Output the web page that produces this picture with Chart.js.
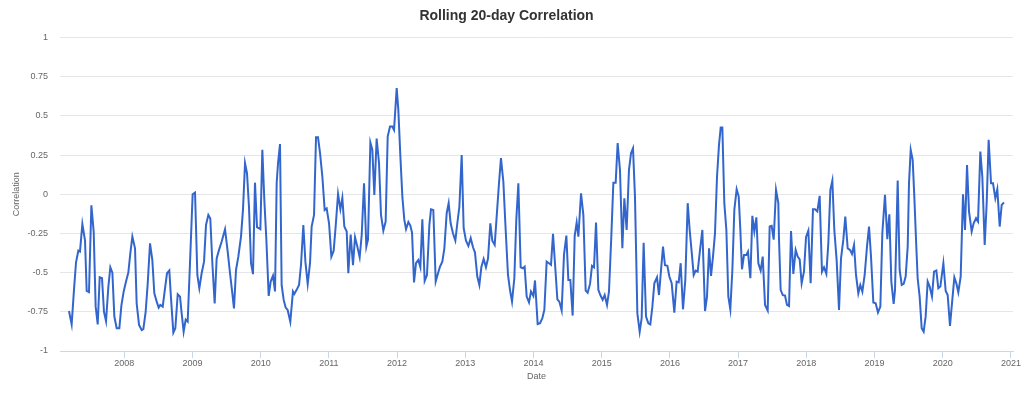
<!DOCTYPE html>
<html>
<head>
<meta charset="utf-8">
<script src="https://cdn.jsdelivr.net/npm/chart.js@4"></script>
<style>
html,body{margin:0;padding:0;background:#fff;}
#wrap{width:1024px;height:393px;position:relative;}
</style>
</head>
<body>
<div id="wrap"><canvas id="c"></canvas></div>
<script>
const chartTitle = "Rolling 20-day Correlation";
const xTitle = "Date";
const yTitle = "Correlation";
const yearTicks = [2008,2009,2010,2011,2012,2013,2014,2015,2016,2017,2018,2019,2020,2021];
const yTicks = [-1,-0.75,-0.5,-0.25,0,0.25,0.5,0.75,1];

const dates = [
2007.189,2007.228,2007.262,2007.292,2007.326,2007.350,2007.385,2007.424,2007.448,2007.482,
2007.517,2007.551,2007.580,2007.610,2007.639,2007.673,2007.702,2007.732,2007.766,2007.795,
2007.825,2007.854,2007.888,2007.927,2007.957,2007.991,2008.025,2008.059,2008.088,2008.118,
2008.157,2008.181,2008.216,2008.255,2008.279,2008.313,2008.343,2008.377,2008.411,2008.440,
2008.475,2008.504,2008.528,2008.563,2008.597,2008.626,2008.660,2008.685,2008.719,2008.748,
2008.783,2008.817,
2008.841,2008.870,2008.900,2008.929,2008.963,2009.002,2009.037,2009.071,2009.100,2009.134,
2009.169,2009.198,2009.232,2009.261,2009.291,2009.325,2009.354,2009.389,2009.428,2009.477,
2009.516,2009.550,2009.584,2009.608,2009.638,2009.672,2009.711,2009.740,2009.770,2009.799,
2009.828,2009.858,2009.887,2009.916,2009.946,2009.975,2009.995,2010.024,2010.053,2010.083,
2010.117,2010.146,2010.180,2010.210,2010.234,2010.254,2010.283,2010.307,2010.337,2010.366,
2010.395,2010.434,2010.473,2010.493,
2010.527,2010.562,2010.591,2010.625,2010.655,2010.689,2010.723,2010.747,2010.782,2010.811,
2010.840,2010.870,2010.904,2010.938,2010.967,2011.002,2011.036,2011.070,2011.099,2011.134,
2011.168,2011.197,2011.226,2011.261,2011.285,2011.319,2011.353,2011.383,2011.417,2011.451,
2011.481,2011.515,2011.549,2011.573,2011.608,2011.637,2011.666,2011.700,2011.735,2011.764,
2011.798,2011.832,2011.862,2011.896,2011.930,2011.955,2011.994,2012.018,2012.047,2012.077,
2012.106,2012.131,2012.165,2012.194,2012.219,2012.248,2012.277,
2012.311,2012.341,2012.370,2012.404,2012.438,2012.473,2012.497,2012.531,2012.566,2012.600,
2012.629,2012.663,2012.693,2012.727,2012.756,2012.785,2012.820,2012.854,2012.883,2012.913,
2012.947,2012.976,2013.010,2013.045,2013.079,2013.113,2013.142,2013.176,2013.206,2013.235,
2013.269,2013.303,2013.333,2013.367,2013.396,2013.431,2013.460,2013.494,2013.523,2013.558,
2013.592,2013.626,2013.655,2013.685,2013.719,2013.748,2013.778,2013.812,2013.846,2013.870,
2013.900,2013.934,2013.963,2013.998,2014.022,2014.061,
2014.096,2014.130,2014.159,2014.193,2014.227,2014.257,2014.286,2014.315,2014.350,2014.379,
2014.413,2014.447,2014.482,2014.511,2014.540,2014.574,2014.604,2014.633,2014.658,2014.697,
2014.731,2014.765,2014.794,2014.829,2014.858,2014.887,2014.917,2014.951,2014.980,2015.014,
2015.044,2015.078,2015.107,2015.141,2015.171,2015.205,2015.234,2015.268,2015.303,2015.332,
2015.366,2015.400,2015.430,2015.459,2015.488,2015.523,2015.557,2015.586,2015.615,2015.650,
2015.684,2015.713,2015.743,2015.772,
2015.811,2015.840,2015.870,2015.899,2015.928,2015.963,2015.992,2016.026,2016.065,2016.099,
2016.129,2016.158,2016.192,2016.226,2016.261,2016.290,2016.319,2016.349,2016.378,2016.407,
2016.442,2016.476,2016.515,2016.544,2016.574,2016.603,2016.632,2016.661,2016.691,2016.720,
2016.745,2016.769,2016.798,2016.828,2016.857,2016.886,2016.916,2016.945,2016.979,2017.009,
2017.033,2017.057,2017.087,2017.121,2017.145,2017.180,2017.209,2017.238,2017.268,2017.297,
2017.331,2017.361,2017.395,2017.434,2017.463,2017.492,2017.522,2017.556,2017.590,
2017.600,2017.624,2017.654,2017.688,2017.717,2017.747,2017.776,2017.810,2017.844,2017.874,
2017.903,2017.932,2017.966,2017.996,2018.030,2018.064,2018.098,2018.128,2018.162,2018.196,
2018.230,2018.260,2018.294,2018.323,2018.353,2018.382,2018.411,2018.445,2018.480,2018.509,
2018.543,2018.572,2018.607,2018.641,2018.670,2018.700,2018.729,2018.763,2018.792,2018.822,
2018.856,2018.890,2018.920,2018.949,2018.983,2019.017,2019.051,2019.086,2019.115,2019.154,
2019.188,2019.218,2019.247,2019.281,
2019.301,2019.340,2019.369,2019.399,2019.428,2019.457,2019.487,2019.506,2019.531,2019.560,
2019.584,2019.609,2019.633,2019.662,2019.692,2019.721,2019.750,2019.780,2019.809,2019.843,
2019.873,2019.907,2019.936,2019.966,2020.010,2020.044,2020.073,2020.107,2020.141,2020.171,
2020.200,2020.229,2020.264,2020.298,2020.327,2020.357,2020.386,2020.425,2020.454,2020.489,
2020.518,2020.552,2020.581,2020.616,2020.645,2020.674,2020.709,2020.738,2020.772,2020.801,
2020.836,2020.865,2020.899
];

const correlation = [
-0.745,-0.83,-0.61,-0.434,-0.36,-0.366,-0.19,-0.296,-0.617,-0.625,
-0.07,-0.24,-0.717,-0.83,-0.53,-0.536,-0.75,-0.81,-0.59,-0.466,
-0.5,-0.78,-0.855,-0.855,-0.71,-0.62,-0.557,-0.5,-0.377,-0.27,
-0.345,-0.696,-0.834,-0.866,-0.86,-0.75,-0.57,-0.313,-0.42,-0.632,
-0.685,-0.723,-0.706,-0.717,-0.6,-0.504,-0.487,-0.664,-0.883,-0.855,
-0.638,-0.653,
-0.76,-0.877,-0.8,-0.813,-0.44,0.0,0.01,-0.515,-0.6,-0.504,
-0.43,-0.196,-0.132,-0.155,-0.44,-0.696,-0.41,-0.355,-0.302,-0.223,
-0.366,-0.504,-0.632,-0.728,-0.483,-0.398,-0.27,-0.1,0.198,0.134,
-0.08,-0.44,-0.51,0.074,-0.21,-0.217,-0.223,0.283,-0.036,-0.29,
-0.649,-0.557,-0.52,-0.62,0.07,0.198,0.32,-0.58,-0.674,-0.723,
-0.738,-0.813,-0.62,-0.636,
-0.61,-0.579,-0.45,-0.196,-0.43,-0.572,-0.44,-0.206,-0.132,0.364,
0.364,0.262,0.113,-0.1,-0.09,-0.185,-0.398,-0.36,-0.206,0.002,
-0.096,-0.023,-0.206,-0.238,-0.504,-0.257,-0.453,-0.274,-0.334,-0.402,
-0.26,0.07,-0.334,-0.29,0.33,0.283,-0.004,0.355,0.198,-0.132,
-0.232,-0.174,0.368,0.432,0.432,0.41,0.677,0.538,0.25,-0.015,
-0.164,-0.223,-0.177,-0.2,-0.245,-0.562,-0.44,
-0.42,-0.466,-0.16,-0.553,-0.515,-0.196,-0.096,-0.1,-0.557,-0.504,
-0.462,-0.43,-0.345,-0.121,-0.057,-0.185,-0.25,-0.296,-0.185,-0.08,
0.25,-0.217,-0.296,-0.33,-0.28,-0.338,-0.372,-0.525,-0.579,-0.466,
-0.413,-0.466,-0.41,-0.185,-0.296,-0.323,-0.143,0.07,0.23,0.08,
-0.228,-0.515,-0.61,-0.685,-0.536,-0.16,0.07,-0.466,-0.472,-0.462,
-0.653,-0.69,-0.62,-0.649,-0.55,-0.828,
-0.823,-0.79,-0.738,-0.43,-0.44,-0.45,-0.253,-0.44,-0.67,-0.685,
-0.742,-0.387,-0.264,-0.547,-0.547,-0.774,-0.266,-0.18,-0.27,0.006,
-0.132,-0.615,-0.628,-0.572,-0.457,-0.466,-0.18,-0.61,-0.643,-0.674,
-0.643,-0.706,-0.62,-0.27,0.074,0.074,0.326,0.155,-0.345,-0.026,
-0.228,0.155,0.262,0.294,-0.015,-0.76,-0.877,-0.79,-0.309,-0.781,
-0.823,-0.83,-0.717,-0.568,
-0.53,-0.643,-0.483,-0.334,-0.453,-0.457,-0.525,-0.568,-0.755,-0.557,
-0.562,-0.44,-0.734,-0.547,-0.057,-0.228,-0.366,-0.515,-0.487,-0.494,
-0.355,-0.228,-0.745,-0.653,-0.345,-0.521,-0.398,-0.25,0.113,0.315,
0.426,0.426,-0.057,-0.228,-0.653,-0.734,-0.483,-0.1,0.032,-0.015,
-0.228,-0.479,-0.387,-0.387,-0.366,-0.536,-0.138,-0.238,-0.147,-0.44,
-0.487,-0.398,-0.706,-0.742,-0.206,-0.202,-0.29,0.028,-0.057,
-0.29,-0.61,-0.643,-0.647,-0.706,-0.713,-0.234,-0.508,-0.355,-0.398,
-0.415,-0.568,-0.494,-0.274,-0.232,-0.568,-0.096,-0.096,-0.11,-0.01,
-0.494,-0.466,-0.508,-0.313,0.028,0.087,-0.228,-0.42,-0.738,-0.41,
-0.29,-0.143,-0.345,-0.355,-0.381,-0.323,-0.515,-0.632,-0.579,-0.621,
-0.515,-0.334,-0.206,-0.398,-0.691,-0.696,-0.755,-0.717,-0.249,-0.004,
-0.287,-0.128,-0.557,-0.7,
-0.61,0.087,-0.483,-0.579,-0.572,-0.525,-0.334,0.07,0.283,0.219,
-0.015,-0.29,-0.536,-0.653,-0.855,-0.877,-0.781,-0.557,-0.589,-0.653,
-0.494,-0.487,-0.6,-0.589,-0.44,-0.617,-0.643,-0.84,-0.674,-0.53,
-0.568,-0.625,-0.525,0.0,-0.228,0.187,-0.11,-0.238,-0.185,-0.153,
-0.174,0.272,0.113,-0.323,-0.057,0.347,0.07,0.07,-0.026,0.032,
-0.206,-0.068,-0.053
];

const xMin = 2007.057, xMax = 2021.031;
const FONT = '"Liberation Sans", Arial, Helvetica, sans-serif';

const points = dates.map((d, i) => ({x: d, y: correlation[i]}));

new Chart(document.getElementById('c'), {
  type: 'line',
  data: {
    datasets: [{
      label: yTitle,
      data: points,
      borderColor: '#3366cc',
      borderWidth: 2,
      pointRadius: 0,
      pointHoverRadius: 0,
      tension: 0,
      fill: false
    }]
  },
  options: {
    responsive: true,
    maintainAspectRatio: false,
    animation: false,
    devicePixelRatio: 1,
    layout: { padding: { left: 0, right: 11, top: 0, bottom: 0 } },
    plugins: {
      legend: { display: false },
      tooltip: { enabled: false },
      title: {
        display: true,
        text: chartTitle,
        color: '#333333',
        font: { family: FONT, size: 14, weight: 'bold' },
        padding: { top: 7.3, bottom: 13.4 }
      }
    },
    scales: {
      x: {
        type: 'linear',
        min: xMin,
        max: xMax,
        afterFit: s => { s.height = 42; },
        afterBuildTicks: s => {
          s.ticks = yearTicks.filter(v => v >= xMin && v <= xMax).map(v => ({value: v}));
        },
        ticks: {
          stepSize: 1,
          autoSkip: false,
          maxRotation: 0,
          padding: 0,
          color: '#666666',
          font: { family: FONT, size: 9 },
          callback: v => String(v)
        },
        grid: {
          drawOnChartArea: false,
          drawTicks: true,
          tickLength: 7,
          color: '#ccd6eb',
          lineWidth: 1
        },
        border: { display: true, color: '#ccd6eb', width: 1 },
        title: {
          display: true,
          text: xTitle,
          color: '#666666',
          font: { family: FONT, size: 9 },
          padding: { top: 0, bottom: 10.6 }
        }
      },
      y: {
        min: -1,
        max: 1,
        afterFit: s => { s.width = 60; },
        afterBuildTicks: s => {
          s.ticks = yTicks.map(v => ({value: v}));
        },
        ticks: {
          stepSize: 0.25,
          padding: 12,
          color: '#666666',
          font: { family: FONT, size: 9 },
          callback: v => String(v)
        },
        grid: {
          color: '#e6e6e6',
          lineWidth: 1,
          drawTicks: false,
          tickLength: 0
        },
        border: { display: false },
        title: {
          display: true,
          text: yTitle,
          color: '#666666',
          font: { family: FONT, size: 9 },
          padding: { top: 11.6, bottom: 0 }
        }
      }
    }
  }
});
</script>
</body>
</html>
